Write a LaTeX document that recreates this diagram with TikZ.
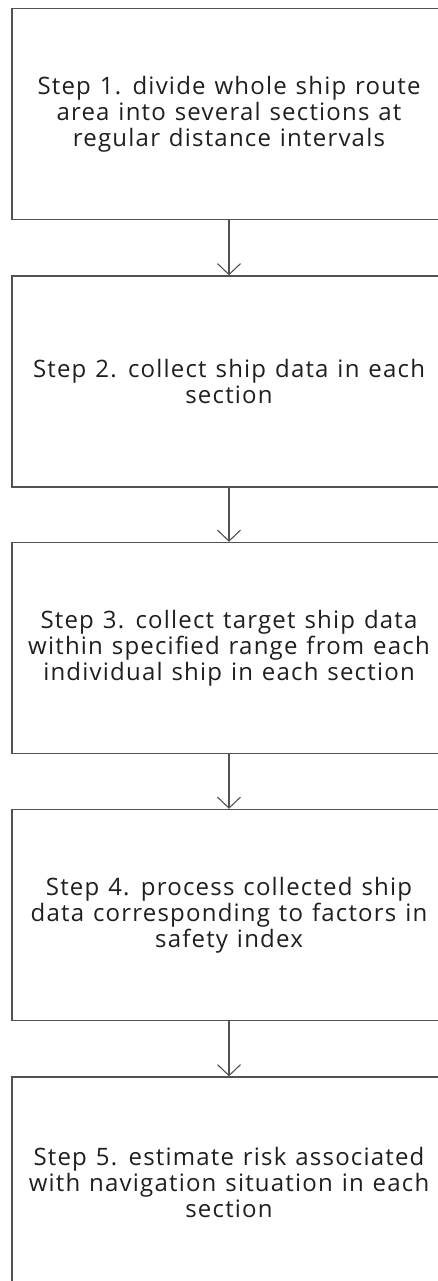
\documentclass[tikz,border=0pt]{standalone}
\usepackage{fontspec}
\setmainfont{Open Sans}[LetterSpace=5.0,WordSpace=1.2]
\usetikzlibrary{arrows.meta}
\begin{document}
\begin{tikzpicture}[x=1pt,y=1pt,
  stepbox/.style={draw=black!68, line width=1.3pt, rectangle,
    minimum width=434pt, minimum height=211pt, inner sep=0pt,
    align=center, text=black!88,
    font=\fontsize{24}{26}\selectfont},
  flow/.style={draw=black!68, line width=1.3pt,
    -{Straight Barb[length=11pt,width=23pt,line width=1.1pt]}}]
\useasboundingbox (0,0) rectangle (437,-1281);
\node[stepbox] (s1) at (229,-114) {Step 1. divide whole ship route\\area into several sections at\\regular distance intervals};
\node[stepbox] (s2) at (229,-381.5) {Step 2. collect ship data in each\\section};
\node[stepbox] (s3) at (229,-648) {Step 3. collect target ship data\\within specified range from each\\individual ship in each section};
\node[stepbox] (s4) at (229,-915) {Step 4. process collected ship\\data corresponding to factors in\\safety index};
\node[stepbox] (s5) at (229,-1182.5) {Step 5. estimate risk associated\\with navigation situation in each\\section};
\draw[flow] (s1.south) -- (s2.north);
\draw[flow] (s2.south) -- (s3.north);
\draw[flow] (s3.south) -- (s4.north);
\draw[flow] (s4.south) -- (s5.north);
\end{tikzpicture}
\end{document}
